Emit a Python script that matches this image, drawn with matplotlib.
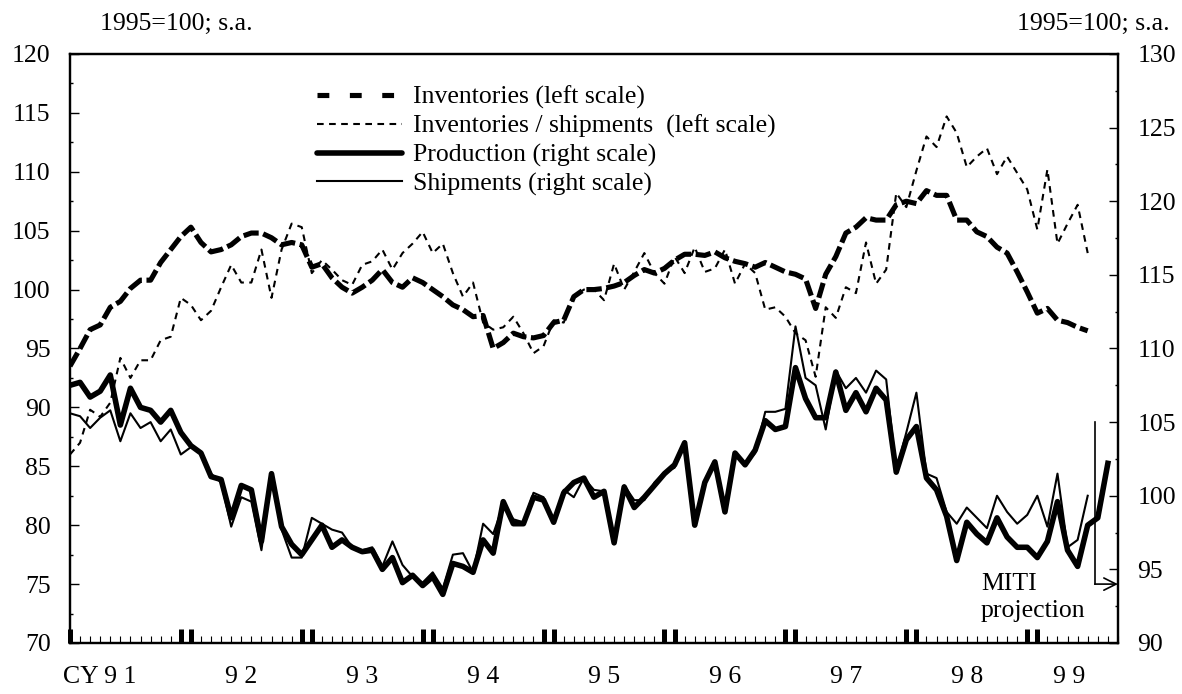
import matplotlib
matplotlib.use('Agg')
import matplotlib.pyplot as plt
from matplotlib.lines import Line2D
from matplotlib.ticker import MultipleLocator
import numpy as np

plt.rcParams['font.family'] = ['Liberation Serif', 'DejaVu Serif']
plt.rcParams['font.size'] = 18.5

# monthly data, Jan 1991 = 0
inventories = [93.5, 95.0, 96.6, 97.0, 98.5, 99.0, 100.1, 100.8, 100.8, 102.3,
               103.4, 104.5, 105.3, 104.0, 103.2, 103.4, 103.8, 104.5, 104.8, 104.8,
               104.4, 103.8, 104.0, 103.8, 101.9, 102.2, 101.0, 100.2, 99.7, 100.2,
               100.8, 101.7, 100.6, 100.2, 101.0, 100.6, 100.0, 99.4, 98.7, 98.3,
               97.7, 97.8, 95.0, 95.5, 96.3, 96.0, 95.9, 96.1, 97.2, 97.4,
               99.4, 100.0, 100.0, 100.1, 100.3, 100.6, 101.2, 101.7, 101.4, 101.8,
               102.5, 103.0, 103.0, 102.9, 103.2, 102.7, 102.4, 102.2, 101.9, 102.3,
               101.9, 101.5, 101.3, 100.9, 98.4, 101.3, 102.8, 104.8, 105.3, 106.1,
               105.9, 105.9, 107.2, 107.5, 107.3, 108.4, 108.0, 108.0, 105.9, 105.9,
               104.9, 104.5, 103.6, 103.1, 101.5, 99.8, 98.0, 98.4, 97.4, 97.2,
               96.8, 96.5]

inv_ship = [86.0, 87.0, 89.8, 89.2, 90.4, 94.2, 92.5, 94.0, 94.0, 95.7,
            96.0, 99.3, 98.7, 97.4, 98.2, 100.2, 102.1, 100.6, 100.6, 103.4,
            99.3, 103.4, 105.6, 105.3, 101.4, 102.5, 101.7, 100.8, 100.4, 102.1,
            102.4, 103.4, 101.7, 103.1, 103.9, 104.9, 103.1, 103.9, 101.4, 99.4,
            100.6, 97.2, 96.6, 96.8, 97.7, 96.3, 94.6, 95.2, 97.4, 97.2,
            99.4, 100.0, 100.0, 99.1, 102.2, 100.0, 101.5, 103.1, 101.4, 100.5,
            102.8, 101.4, 103.6, 101.5, 101.8, 103.4, 100.5, 102.2, 101.4, 98.3,
            98.5, 97.7, 96.3, 95.7, 92.6, 98.5, 97.6, 100.2, 99.7, 104.0,
            100.5, 101.7, 108.2, 107.0, 110.1, 113.0, 112.1, 114.7, 113.3, 110.4,
            111.3, 112.0, 109.8, 111.3, 109.9, 108.5, 105.1, 110.2, 103.9, 105.6,
            107.2, 103.1]

production = [107.5, 107.7, 106.7, 107.1, 108.2, 104.8, 107.3, 106.0, 105.8, 105.0,
              105.8, 104.3, 103.4, 102.9, 101.3, 101.1, 98.5, 100.7, 100.4, 96.9,
              101.5, 97.9, 96.7, 96.0, 97.0, 98.0, 96.5, 97.0, 96.5, 96.2,
              96.3, 95.0, 95.8, 94.1, 94.6, 93.9, 94.5, 93.3, 95.4, 95.2,
              94.8, 97.0, 96.1, 99.6, 98.1, 98.1, 99.9, 99.7, 98.2, 100.2,
              100.9, 101.2, 99.9, 100.3, 96.8, 100.6, 99.2, 99.9, 100.7, 101.5,
              102.1, 103.6, 98.0, 100.9, 102.3, 98.9, 102.9, 102.1, 103.1, 105.1,
              104.5, 104.7, 108.7, 106.6, 105.3, 105.3, 108.4, 105.8, 107.0, 105.7,
              107.3, 106.5, 101.6, 103.8, 104.7, 101.2, 100.4, 98.6, 95.6, 98.2,
              97.4, 96.8, 98.5, 97.2, 96.5, 96.5, 95.8, 96.9, 99.6, 96.3,
              95.2, 98.0, 98.5, 102.2]

shipments = [105.6, 105.4, 104.6, 105.3, 105.8, 103.7, 105.6, 104.6, 105.0, 103.7,
             104.5, 102.8, 103.3, 103.0, 101.5, 100.9, 97.9, 99.9, 99.6, 96.3,
             101.3, 97.7, 95.8, 95.8, 98.5, 98.1, 97.7, 97.5, 96.5, 96.3,
             96.5, 95.2, 96.9, 95.3, 94.5, 94.1, 94.8, 93.7, 96.0, 96.1,
             94.8, 98.1, 97.4, 99.4, 98.4, 98.2, 100.2, 99.9, 98.2, 100.4,
             99.9, 101.2, 100.4, 100.3, 96.8, 100.7, 99.7, 99.7, 100.9, 101.6,
             101.9, 103.6, 98.0, 100.9, 102.3, 98.9, 102.9, 102.1, 102.9, 105.7,
             105.7, 105.9, 111.5, 108.0, 107.5, 104.5, 108.5, 107.3, 108.0, 107.0,
             108.5, 107.9, 101.7, 104.3, 107.0, 101.5, 101.2, 98.9, 98.1, 99.2,
             98.5, 97.8, 100.0, 98.9, 98.1, 98.7, 100.0, 97.9, 101.5, 96.5,
             97.0, 100.0]

year_labels = ['CY 9 1', '9 2', '9 3', '9 4', '9 5', '9 6', '9 7', '9 8', '9 9']
year_label_pos = [2.9, 17, 29, 41, 53, 65, 77, 89, 99.2]
n_months = 104
proj_x = 101.7      # start of MITI projection
proj_top = 105.0
proj_arrow = 94.0

fig = plt.figure(figsize=(11.82, 6.94), dpi=100)
ax = fig.add_axes([0.0592, 0.0735, 0.8866, 0.8487])
ax2 = ax.twinx()

ax.plot(np.arange(len(inv_ship)), inv_ship, color='black', lw=1.5,
        dashes=(3.2, 2.6), dash_capstyle='butt')
ax.plot(np.arange(len(inventories)), inventories, color='black', lw=3.7,
        dashes=(3.0, 0.9), dash_capstyle='butt')
ax2.plot(np.arange(len(shipments)), shipments, color='black', lw=1.5)
ax2.plot(np.arange(len(production)), production, color='black', lw=4.0,
         solid_joinstyle='round')

# MITI projection marker
ax2.plot([proj_x, proj_x], [proj_top, proj_arrow], color='black', lw=1.2)
ax2.annotate('', xy=(n_months, proj_arrow), xytext=(proj_x, proj_arrow),
             arrowprops=dict(arrowstyle='->', lw=1.2, color='black',
                             mutation_scale=22, shrinkA=0, shrinkB=0))
ax2.text(proj_x - 11.3, 93.1, 'MITI\nprojection', ha='left', va='center',
         linespacing=1.3)

ax.set_xlim(0, n_months)
ax.set_ylim(70, 120)
ax2.set_ylim(90, 130)
ax.set_yticks(np.arange(70, 121, 5))
ax2.set_yticks(np.arange(90, 131, 5))
ax.yaxis.set_minor_locator(MultipleLocator(2.5))
ax2.yaxis.set_minor_locator(MultipleLocator(2.5))

major_x = [0] + [m for y in range(1, 9) for m in (12 * y - 1, 12 * y)]
ax.set_xticks(major_x)
ax.set_xticklabels([])
ax.set_xticks(np.arange(0, n_months + 1), minor=True)
ax.tick_params(axis='x', which='major', direction='in', length=10, width=3.6)
ax.tick_params(axis='x', which='minor', direction='in', length=5, width=0.8)
ax.tick_params(axis='y', which='major', direction='in', length=6.5, width=1, pad=14)
ax.tick_params(axis='y', which='minor', direction='in', length=2.5, width=1)
ax2.tick_params(axis='y', which='major', direction='in', length=6.5, width=1, pad=14)
ax2.tick_params(axis='y', which='minor', direction='in', length=2.5, width=1)
ax2.tick_params(axis='x', which='both', bottom=False, top=False)

for a in (ax, ax2):
    for s in a.spines.values():
        s.set_linewidth(1.6)

for lab, pos in zip(year_labels, year_label_pos):
    ax.text(pos, -0.057, lab, transform=ax.get_xaxis_transform(),
            ha='center', va='center')

fig.text(100 / 1182, 1 - 24 / 694, '1995=100; s.a.', ha='left', va='center')
fig.text(1170 / 1182, 1 - 24 / 694, '1995=100; s.a.', ha='right', va='center')

handles = [
    Line2D([], [], color='black', lw=3.7, dashes=(2.3, 4.0), dash_capstyle='butt'),
    Line2D([], [], color='black', lw=1.5, dashes=(3.2, 2.6), dash_capstyle='butt'),
    Line2D([], [], color='black', lw=4.0, solid_capstyle='round'),
    Line2D([], [], color='black', lw=1.5),
]
labels = ['Inventories (left scale)',
          'Inventories / shipments  (left scale)',
          'Production (right scale)',
          'Shipments (right scale)']
fig.legend(handles, labels, loc='upper left', bbox_to_anchor=(317 / 1182, 1 - 86 / 694),
           frameon=False, handlelength=3.3, handletextpad=0.43, labelspacing=0.21,
           borderpad=0, borderaxespad=0, fontsize=18.5)

fig.savefig('out.png', dpi=100)
